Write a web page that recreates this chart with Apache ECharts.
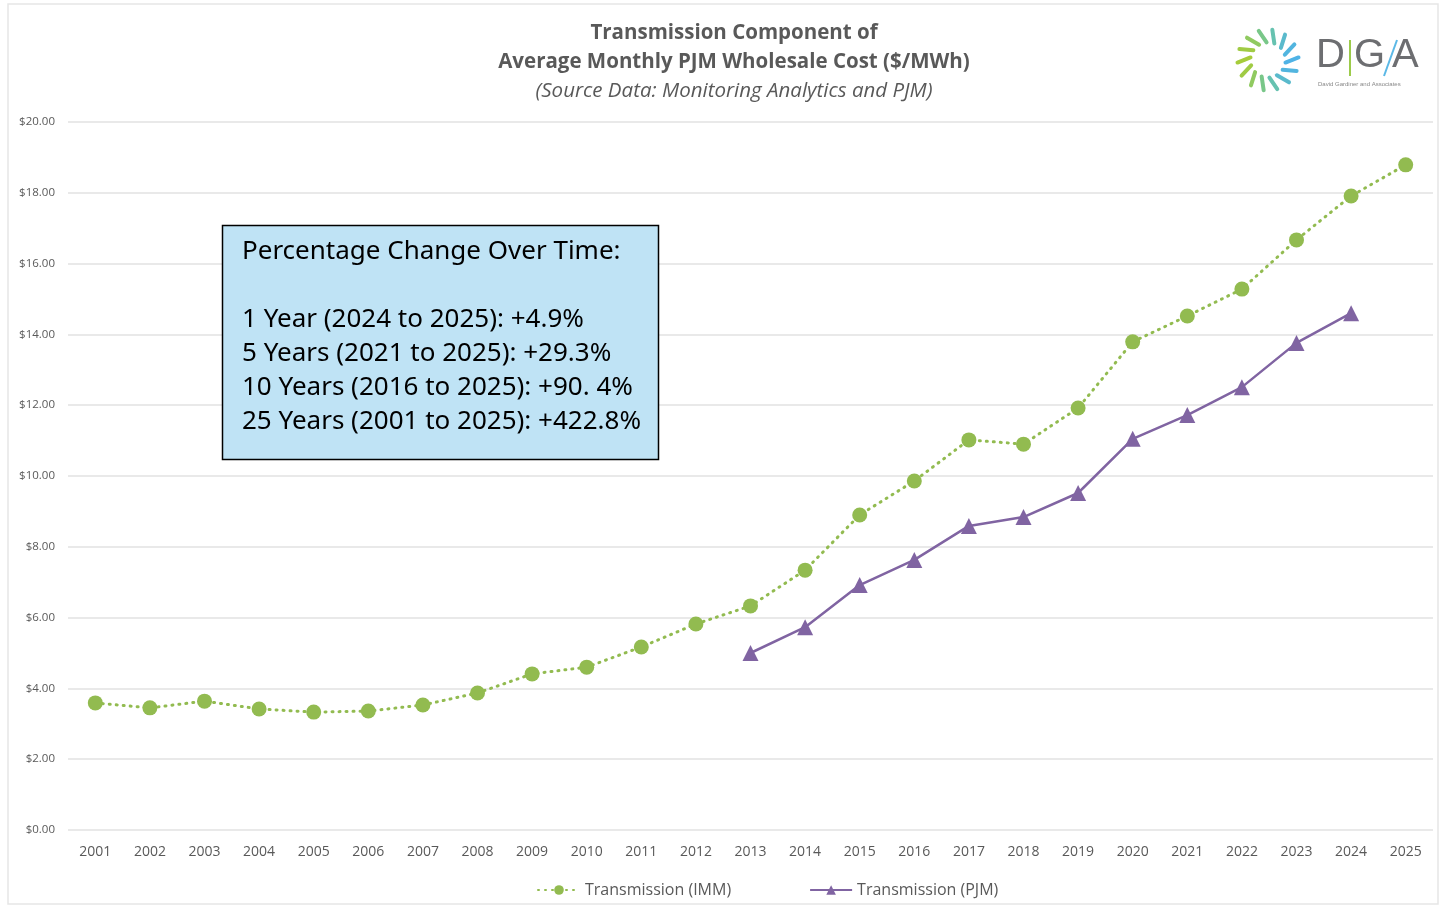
<!DOCTYPE html>
<html lang="en">
  <head>
    <meta charset="UTF-8" />
    <title>Transmission Component</title>
    <script src="https://cdn.jsdelivr.net/npm/echarts@6/dist/echarts.min.js"></script>
    <style>
      html, body { margin: 0; padding: 0; background: #fff; }
    </style>
  </head>
  <body>
    <div id="main" style="width: 1441px; height: 908px"></div>

    <script>
      var years = ["2001", "2002", "2003", "2004", "2005", "2006", "2007", "2008", "2009", "2010", "2011", "2012", "2013",
        "2014", "2015", "2016", "2017", "2018", "2019", "2020", "2021", "2022", "2023", "2024", "2025"]
      // IMM values, $/MWh
      var imm = [3.59, 3.45, 3.64, 3.42, 3.33, 3.36, 3.53, 3.87, 4.41, 4.6, 5.17, 5.82, 6.33,
        7.34, 8.9, 9.86, 11.02, 10.9, 11.92, 13.79, 14.52, 15.28, 16.67, 17.91, 18.79]
      // PJM values start in 2013
      var pjm = [null, null, null, null, null, null, null, null, null, null, null, null, 5.0,
        5.73, 6.92, 7.63, 8.59, 8.84, 9.52, 11.05, 11.72, 12.51, 13.76, 14.6, null]
      var boxLines = [
        "Percentage Change Over Time:",
        "",
        "1 Year (2024 to 2025): +4.9%",
        "5 Years (2021 to 2025): +29.3%",
        "10 Years (2016 to 2025): +90. 4%",
        "25 Years (2001 to 2025): +422.8%",
      ]

      var green = "#92bb50"
      var purple = "#8064a2"
      var grayText = "#595959"

      var chart = echarts.init(document.getElementById("main"))

      // logo swirl: short dashes round a circle, green at left/bottom, blue at right
      var swirl = []
      for (let i = 0; i < 14; i++) {
        let a = (i / 14) * Math.PI * 2
        let t = (Math.cos(a) + 1) / 2
        let col = echarts.color.lerp(t, ["#a6cc3a", "#6cc6a0", "#4fb3e6"])
        swirl.push({
          type: "rect",
          x: 1268 + Math.cos(a) * 24,
          y: 60 + Math.sin(a) * 24,
          rotation: -a - 1.2,
          shape: { x: -2, y: -9, width: 4, height: 18, r: 2 },
          style: { fill: col },
        })
      }

      var option = {
        animation: false,
        textStyle: { fontFamily: "Open Sans, sans-serif" },
        title: [
          {
            text: "Transmission Component of\nAverage Monthly PJM Wholesale Cost ($/MWh)",
            left: 729,
            top: 14,
            textAlign: "center",
            textStyle: { fontSize: 20.5, fontWeight: "bold", color: grayText, lineHeight: 29, fontFamily: "Open Sans" },
          },
          {
            text: "(Source Data: Monitoring Analytics and PJM)",
            left: 729,
            top: 76,
            textAlign: "center",
            textStyle: { fontSize: 20.5, fontStyle: "italic", fontWeight: "normal", color: grayText, fontFamily: "Open Sans" },
          },
        ],
        grid: { left: 68, right: 8, top: 122, bottom: 78 },
        legend: {
          bottom: 5,
          left: 532,
          itemGap: 78,
          itemWidth: 42,
          itemHeight: 12,
          textStyle: { color: grayText, fontSize: 16 },
          data: ["Transmission (IMM)", "Transmission (PJM)"],
        },
        xAxis: {
          type: "category",
          data: years,
          boundaryGap: true,
          axisLine: { show: false },
          axisTick: { show: false },
          axisLabel: { color: grayText, fontSize: 14, margin: 15 },
        },
        yAxis: {
          type: "value",
          min: 0,
          max: 20,
          interval: 2,
          axisLine: { show: false },
          axisTick: { show: false },
          splitLine: { lineStyle: { color: "#e2e2e2", width: 1.5 } },
          axisLabel: {
            color: grayText,
            fontSize: 11.5,
            margin: 13,
            formatter: function (v) {
              return "$" + v.toFixed(2)
            },
          },
        },
        series: [
          {
            name: "Transmission (IMM)",
            type: "line",
            data: imm,
            symbol: "circle",
            symbolSize: 15,
            itemStyle: { color: green },
            lineStyle: { color: green, width: 3, type: [1, 6], cap: "round" },
          },
          {
            name: "Transmission (PJM)",
            type: "line",
            data: pjm,
            symbol: "triangle",
            symbolSize: 16,
            itemStyle: { color: purple },
            lineStyle: { color: purple, width: 2.5 },
          },
        ],
        graphic: [
          {
            type: "rect",
            shape: { x: 8, y: 4, width: 1430, height: 900 },
            style: { fill: "none", stroke: "#e6e6e6", lineWidth: 1.5 },
            silent: true,
            z: -10,
          },
          {
            type: "rect",
            shape: { x: 222.5, y: 225.5, width: 436, height: 234 },
            style: { fill: "#bfe3f5", stroke: "#000", lineWidth: 1.5 },
            z: 100,
          },
          {
            type: "text",
            x: 242,
            y: 235,
            style: {
              text: boxLines.join("\n"),
              fontSize: 26,
              lineHeight: 34,
              fill: "#000",
              fontFamily: "Noto Sans, sans-serif",
            },
            z: 101,
          },
          {
            type: "group",
            children: swirl.concat([
              {
                type: "text",
                x: 1316,
                y: 36,
                style: { text: "D", fontSize: 40, fill: "#6d6e71", fontFamily: "Liberation Sans" },
              },
              {
                type: "rect",
                shape: { x: 1349, y: 40, width: 2, height: 36 },
                style: { fill: "#9ccb4a" },
              },
              {
                type: "text",
                x: 1354,
                y: 36,
                style: { text: "G", fontSize: 40, fill: "#6d6e71", fontFamily: "Liberation Sans" },
              },
              {
                type: "line",
                shape: { x1: 1397, y1: 40, x2: 1384, y2: 76 },
                style: { stroke: "#5bb8e6", lineWidth: 2 },
              },
              {
                type: "text",
                x: 1392,
                y: 36,
                style: { text: "A", fontSize: 40, fill: "#6d6e71", fontFamily: "Liberation Sans" },
              },
              {
                type: "text",
                x: 1318,
                y: 81,
                style: { text: "David Gardiner and Associates", fontSize: 6, fill: "#888", fontFamily: "Liberation Sans" },
              },
            ]),
          },
        ],
      }

      chart.setOption(option)
    </script>
  </body>
</html>
